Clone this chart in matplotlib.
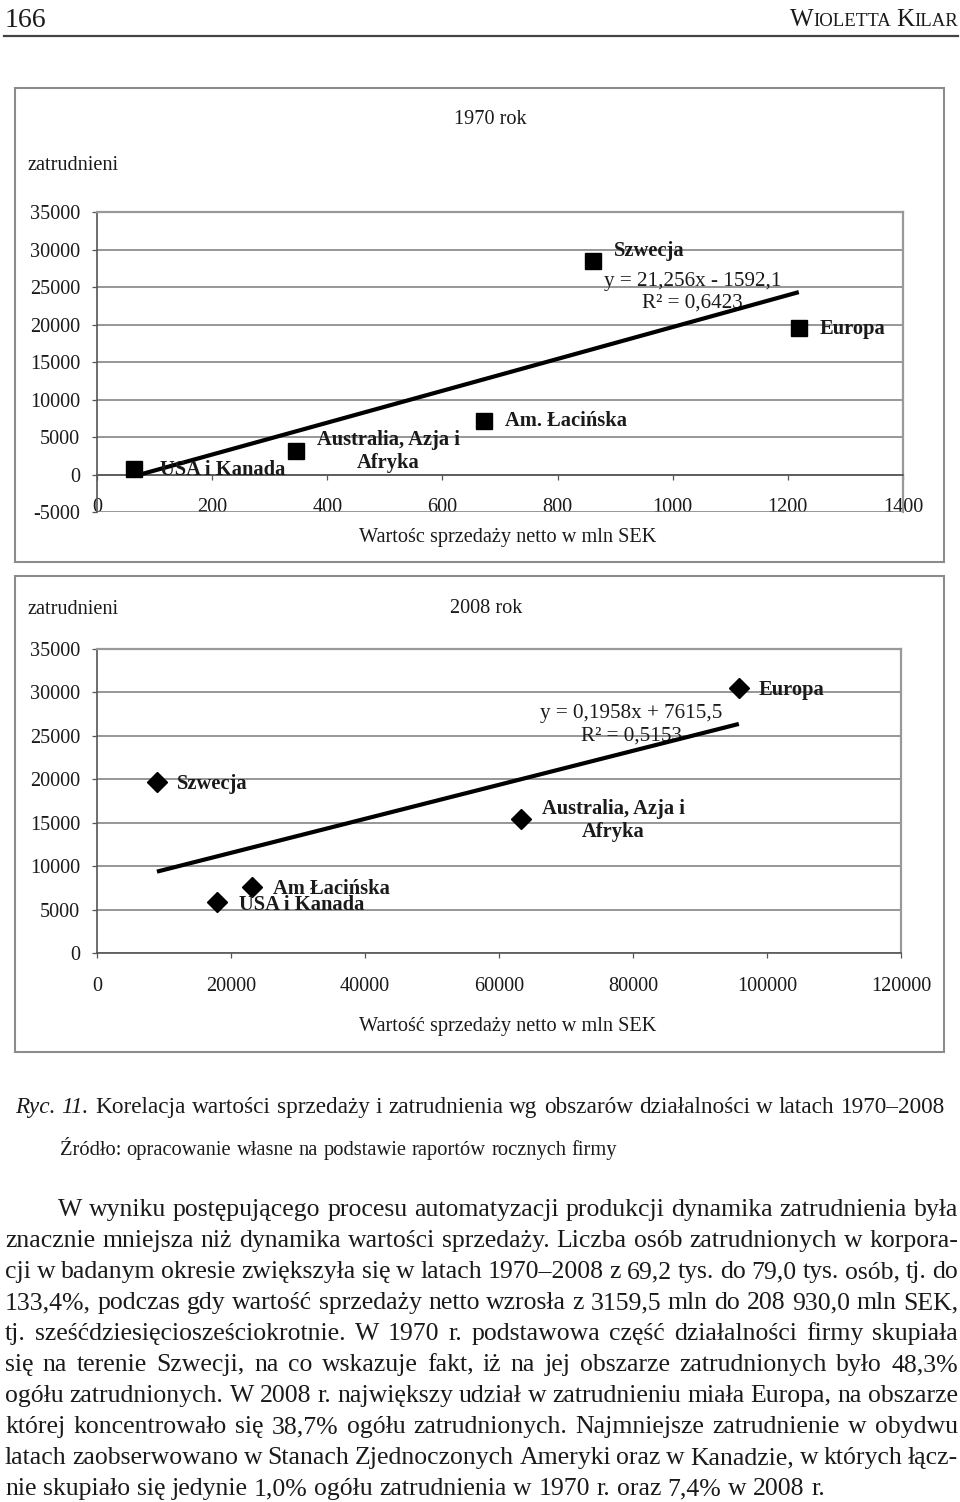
import numpy as np
import matplotlib
matplotlib.use('Agg')
import matplotlib.pyplot as plt
from matplotlib.patches import Rectangle

plt.rcParams['font.family'] = ['Liberation Serif', 'DejaVu Serif']

W, H = 960, 1502

# --- data ---
regions_1970 = ['USA i Kanada', 'Australia, Azja i\nAfryka', 'Am. Łacińska', 'Szwecja', 'Europa']
sales_1970 = [64, 346, 673, 861, 1219]
emp_1970 = [670, 3200, 7200, 28500, 19500]
coef_1970 = (21.256, -1592.1)
eq_1970 = 'y = 21,256x - 1592,1\nR² = 0,6423'
xticks_1970 = [0, 200, 400, 600, 800, 1000, 1200, 1400]
yticks_1970 = [-5000, 0, 5000, 10000, 15000, 20000, 25000, 30000, 35000]

regions_2008 = ['Szwecja', 'USA i Kanada', 'Am Łacińska', 'Australia, Azja i\nAfryka', 'Europa']
sales_2008 = [8950, 17900, 23100, 63300, 95800]
emp_2008 = [19700, 5900, 7600, 15400, 30500]
coef_2008 = (0.1958, 7615.5)
eq_2008 = 'y = 0,1958x + 7615,5\nR² = 0,5153'
xticks_2008 = [0, 20000, 40000, 60000, 80000, 100000, 120000]
yticks_2008 = [0, 5000, 10000, 15000, 20000, 25000, 30000, 35000]

caption = 'Korelacja wartości sprzedaży i zatrudnienia wg obszarów działalności w latach 1970–2008'
source = 'Źródło: opracowanie własne na podstawie raportów rocznych firmy'
paragraph = [
    'W wyniku postępującego procesu automatyzacji produkcji dynamika zatrudnienia była',
    'znacznie mniejsza niż dynamika wartości sprzedaży. Liczba osób zatrudnionych w korpora-',
    'cji w badanym okresie zwiększyła się w latach 1970–2008 z 69,2 tys. do 79,0 tys. osób, tj. do',
    '133,4%, podczas gdy wartość sprzedaży netto wzrosła z 3159,5 mln do 208 930,0 mln SEK,',
    'tj. sześćdziesięciosześciokrotnie. W 1970 r. podstawowa część działalności firmy skupiała',
    'się na terenie Szwecji, na co wskazuje fakt, iż na jej obszarze zatrudnionych było 48,3%',
    'ogółu zatrudnionych. W 2008 r. największy udział w zatrudnieniu miała Europa, na obszarze',
    'której koncentrowało się 38,7% ogółu zatrudnionych. Najmniejsze zatrudnienie w obydwu',
    'latach zaobserwowano w Stanach Zjednoczonych Ameryki oraz w Kanadzie, w których łącz-',
    'nie skupiało się jedynie 1,0% ogółu zatrudnienia w 1970 r. oraz 7,4% w 2008 r.',
]

INK = '#1a1a1a'
GRID = '#7a7a7a'
FS = 14.6

fig = plt.figure(figsize=(W / 100, H / 100), dpi=100)
renderer = fig.canvas.get_renderer()


def fx(x):
    return x / W


def fy(y):
    return 1 - y / H


def put(x, y, s, **kw):
    kw.setdefault('color', INK)
    return fig.text(fx(x), fy(y), s, **kw)


def measure(s, **kw):
    t = fig.text(0, 0, s, **kw)
    w = t.get_window_extent(renderer).width
    t.remove()
    return w


def space_width(fs):
    return measure('a a', fontsize=fs) - measure('aa', fontsize=fs)


def natural(words, fs, squeeze=1.0):
    widths = [measure(w, fontsize=fs, **kw) for w, kw in words]
    return sum(widths) + squeeze * space_width(fs) * (len(words) - 1)


def words_line(words, x0, y, fs, x1=None):
    # words: list of (text, extra kwargs); justified between x0 and x1 if given
    if x1 is not None:
        tight = natural(words, fs, 0.6)
        if tight > x1 - x0:
            fs = fs * (x1 - x0) / tight
    widths = [measure(w, fontsize=fs, **kw) for w, kw in words]
    gap = space_width(fs) if x1 is None else (x1 - x0 - sum(widths)) / (len(words) - 1)
    x = x0
    for (w, kw), wd in zip(words, widths):
        put(x, y, w, fontsize=fs, va='baseline', ha='left', **kw)
        x += wd + gap


def fit_size(words, target, fs0=10):
    return fs0 * target / natural(words, fs0)


def chart(box, xs, ys, names, offsets, marker, ms, xticks, yticks, coef, eq, eqpos):
    left, top, right, bottom = box
    ax = fig.add_axes([fx(left), fy(bottom), (right - left) / W, (bottom - top) / H])
    ax.set_xlim(xticks[0], xticks[-1])
    ax.set_ylim(yticks[0], yticks[-1])
    ax.set_xticks(xticks)
    ax.set_yticks(yticks)
    ax.set_xticklabels([str(v) for v in xticks])
    ax.set_yticklabels([str(v) for v in yticks])
    ax.yaxis.grid(True, color=GRID, lw=1.1)
    ax.set_axisbelow(True)
    ax.spines['bottom'].set_position(('data', 0))
    for s in ['bottom', 'left']:
        ax.spines[s].set_color('#555555')
        ax.spines[s].set_linewidth(1.2)
    for s in ['top', 'right']:
        ax.spines[s].set_color('#999999')
        ax.spines[s].set_linewidth(1.6)
    ax.tick_params(axis='x', direction='out', length=3.6, width=0.9, color='#555555',
                   pad=13.5, labelsize=FS, labelcolor=INK)
    ax.tick_params(axis='y', direction='out', length=3.6, width=0.9, color='#555555',
                   pad=8.5, labelsize=FS, labelcolor=INK)
    for lab in ax.get_xticklabels():
        lab.set_clip_on(False)

    xl = np.array([min(xs), max(xs)], dtype=float)
    ax.plot(xl, coef[0] * xl + coef[1], color='black', lw=3.0, solid_capstyle='butt', zorder=3)
    ax.plot(xs, ys, ls='none', marker=marker, ms=ms, color='black', zorder=4, clip_on=False)
    for x, y, name, (dx, dy) in zip(xs, ys, names, offsets):
        centered = '\n' in name
        ax.annotate(name, (x, y), xytext=(dx * 0.72, dy * 0.72), textcoords='offset points',
                    ha='center' if centered else 'left', va='center', ma='center',
                    fontsize=14.8, fontweight='bold', color=INK, linespacing=1.22, zorder=5)
    ax.text(eqpos[0], eqpos[1], eq, transform=ax.transAxes, ha='center', va='center',
            ma='center', fontsize=15.2, color=INK, linespacing=1.22, zorder=2)
    return ax


# page header
put(5, 27, '166', fontsize=20, va='baseline')
hdr = [('W', 18), ('IOLETTA', 13.5), (' ', 13.5), ('K', 18), ('ILAR', 13.5)]
hw = [measure(s, fontsize=f) if s != ' ' else space_width(f) for s, f in hdr]
x = 958 - sum(hw)
for (s, f), w in zip(hdr, hw):
    if s != ' ':
        put(x, 26, s, fontsize=f, va='baseline')
    x += w
fig.add_artist(plt.Line2D([fx(4), fx(958)], [fy(36), fy(36)], color='#444444', lw=1.6))

# frames
for top, bottom in [(88, 562), (576, 1052)]:
    fig.add_artist(Rectangle((fx(15), fy(bottom)), (944 - 15) / W, (bottom - top) / H,
                             fill=False, ec='#8c8c8c', lw=1.5, transform=fig.transFigure))

# 1970 chart
chart((97, 212, 903, 512), sales_1970, emp_1970, regions_1970,
      [(26, -1), (92, -1), (21, 0), (21, 10), (21, -1)], 's', 12,
      xticks_1970, yticks_1970, coef_1970, eq_1970, (0.739, 0.733))
put(490, 120, '1970 rok', fontsize=FS, ha='center', va='center')
put(28, 165, 'zatrudnieni', fontsize=FS, ha='left', va='center')
put(508, 538, 'Wartośc sprzedaży netto w mln SEK', fontsize=FS, ha='center', va='center')

# 2008 chart
chart((97, 649, 901, 953), sales_2008, emp_2008, regions_2008,
      [(20, -2), (22, -3), (21, -2), (92, -1), (20, -2)], 'D', 10,
      xticks_2008, yticks_2008, coef_2008, eq_2008, (0.665, 0.75))
put(486, 608, '2008 rok', fontsize=FS, ha='center', va='center')
put(28, 609, 'zatrudnieni', fontsize=FS, ha='left', va='center')
put(508, 1026, 'Wartość sprzedaży netto w mln SEK', fontsize=FS, ha='center', va='center')

# caption and source
cap_words = [('Ryc.', {'style': 'italic'}), ('11.', {'style': 'italic'})] + \
            [(w, {}) for w in caption.split(' ')]
fs_cap = fit_size(cap_words, 930)
words_line(cap_words, 15, 1113, fs_cap, 945)
src_words = [(w, {}) for w in source.split(' ')]
fs_src = fit_size(src_words, 557)
words_line(src_words, 60, 1155, fs_src, 617)

# body text, justified
base = 1216
for i, line in enumerate(paragraph):
    words = [(w, {}) for w in line.split(' ')]
    x0 = 58 if i == 0 else 5
    last = i == len(paragraph) - 1
    words_line(words, x0, base + i * 31, 18.5, None if last else 958)

fig.savefig('out.png', dpi=100)
